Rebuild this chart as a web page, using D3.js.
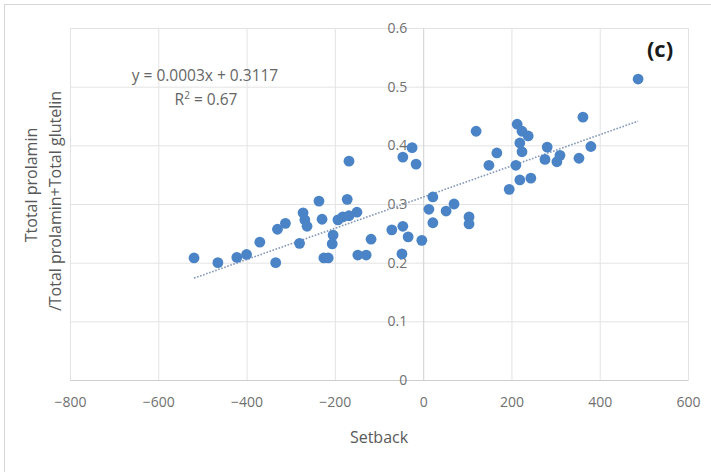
<!DOCTYPE html>
<html>
<head>
<meta charset="utf-8">
<script src="https://cdn.jsdelivr.net/npm/d3@7"></script>
<style>
  html, body { margin: 0; padding: 0; background: #fff; }
  svg { display: block; }
  text { font-family: "Open Sans", "Noto Sans", sans-serif; }
</style>
</head>
<body>
<svg id="chart" width="711" height="472"></svg>
<script>
// Setback (x) against prolamin ratio (y)
const setback = [
  -519, -465, -422, -400, -370, -334, -330, -312, -280, -272,
  -268, -263, -236, -229, -225, -215, -204, -206, -193, -182,
  -172, -168, -168, -150, -148, -129, -118, -71, -48, -46,
  -46, -25, -34, -16, -3, 13, 22, 22, 52, 70,
  104, 104, 120, 149, 167, 195, 210, 213, 219, 224,
  224, 238, 219, 244, 276, 281, 303, 310, 353, 362,
  380, 487
];
const ratio = [
  0.208, 0.200, 0.209, 0.214, 0.235, 0.200, 0.257, 0.267, 0.233, 0.285,
  0.273, 0.262, 0.305, 0.274, 0.208, 0.208, 0.247, 0.232, 0.273, 0.278,
  0.308, 0.373, 0.280, 0.286, 0.213, 0.213, 0.240, 0.256, 0.215, 0.262,
  0.380, 0.396, 0.244, 0.368, 0.238, 0.291, 0.312, 0.268, 0.288, 0.300,
  0.278, 0.266, 0.424, 0.366, 0.387, 0.325, 0.366, 0.436, 0.404, 0.424,
  0.389, 0.416, 0.341, 0.344, 0.376, 0.397, 0.372, 0.383, 0.378, 0.448,
  0.398, 0.513
];

// Axis ticks
const xTicks = [-800, -600, -400, -200, 0, 200, 400, 600];
const yTicks = [0, 0.1, 0.2, 0.3, 0.4, 0.5, 0.6];

// Linear trendline
const trendSlope = 0.000266;
const trendIntercept = 0.3117;
const rSquared = 0.67;

const svg = d3.select("#chart");

// chart frame
svg.append("rect")
  .attr("x", 4.5).attr("y", 4.5)
  .attr("width", 730).attr("height", 490)
  .attr("fill", "#fff")
  .attr("stroke", "#d6d6d6");

const plot = { left: 70, right: 688, top: 28, bottom: 380 };

const x = d3.scaleLinear().domain([-800, 600]).range([plot.left, plot.right]);
const y = d3.scaleLinear().domain([0, 0.6]).range([plot.bottom, plot.top]);

// gridlines
svg.append("g")
  .attr("transform", `translate(0,${plot.bottom})`)
  .call(d3.axisBottom(x).tickValues(xTicks).tickSize(-(plot.bottom - plot.top)).tickFormat(""))
  .call(g => g.select(".domain").remove())
  .call(g => g.selectAll("line").attr("stroke", "#e3e3e3"));

svg.append("g")
  .attr("transform", `translate(${plot.left},0)`)
  .call(d3.axisLeft(y).tickValues(yTicks).tickSize(-(plot.right - plot.left)).tickFormat(""))
  .call(g => g.select(".domain").remove())
  .call(g => g.selectAll("line").attr("stroke", "#e3e3e3"));

// horizontal axis line with labels
svg.append("g")
  .attr("transform", `translate(0,${plot.bottom})`)
  .call(d3.axisBottom(x).tickValues(xTicks).tickSize(0).tickPadding(17).tickFormat(d3.format("d")))
  .call(g => g.select(".domain").attr("stroke", "#cfcfcf"))
  .call(g => g.selectAll("text")
    .attr("fill", "#707070")
    .attr("font-size", "14px")
    .attr("font-family", "'Open Sans', sans-serif"));

// vertical axis crossing at x = 0
svg.append("g")
  .attr("transform", `translate(${x(0)},0)`)
  .call(d3.axisLeft(y).tickValues(yTicks).tickSize(0).tickPadding(16).tickFormat(d => d === 0 ? "0" : d3.format(".1f")(d)))
  .call(g => g.select(".domain").attr("stroke", "#d6d6d6"))
  .call(g => g.selectAll("text")
    .attr("fill", "#707070")
    .attr("font-size", "14px")
    .attr("font-family", "'Open Sans', sans-serif"));

// trendline over the data range
const xExt = d3.extent(setback);
svg.append("line")
  .attr("x1", x(xExt[0])).attr("y1", y(trendSlope * xExt[0] + trendIntercept))
  .attr("x2", x(xExt[1])).attr("y2", y(trendSlope * xExt[1] + trendIntercept))
  .attr("stroke", "#8397b8")
  .attr("stroke-width", 1.6)
  .attr("stroke-dasharray", "1.6,1.6");

// scatter points
svg.append("g")
  .selectAll("circle")
  .data(setback.map((s, i) => [s, ratio[i]]))
  .join("circle")
  .attr("cx", d => x(d[0]))
  .attr("cy", d => y(d[1]))
  .attr("r", 5.4)
  .attr("fill", "#4a83c6");

// equation label
svg.append("text")
  .attr("x", 205).attr("y", 81)
  .attr("text-anchor", "middle")
  .attr("fill", "#666")
  .attr("font-size", "15.5px")
  .text(`y = ${d3.format(".1r")(trendSlope)}x + ${d3.format(".4f")(trendIntercept)}`);

const r2 = svg.append("text")
  .attr("x", 206).attr("y", 105)
  .attr("text-anchor", "middle")
  .attr("fill", "#666")
  .attr("font-size", "15.5px");
r2.append("tspan").text("R");
r2.append("tspan").attr("font-size", "10px").attr("dy", -6).text("2");
r2.append("tspan").attr("dy", 6).text(` = ${rSquared}`);

// panel tag
svg.append("text")
  .attr("x", 660).attr("y", 57)
  .attr("text-anchor", "middle")
  .attr("font-size", "22px")
  .attr("font-weight", "bold")
  .attr("fill", "#1a1a1a")
  .text("(c)");

// axis titles
svg.append("text")
  .attr("x", 379).attr("y", 443)
  .attr("text-anchor", "middle")
  .attr("fill", "#595959")
  .attr("font-size", "16px")
  .text("Setback");

svg.append("text")
  .attr("transform", "translate(37,185) rotate(-90)")
  .attr("text-anchor", "middle")
  .attr("fill", "#595959")
  .attr("font-size", "16px")
  .text("Ttotal prolamin");

svg.append("text")
  .attr("transform", "translate(61,201) rotate(-90)")
  .attr("text-anchor", "middle")
  .attr("fill", "#595959")
  .attr("font-size", "16px")
  .text("/Total prolamin+Total glutelin");
</script>
</body>
</html>
